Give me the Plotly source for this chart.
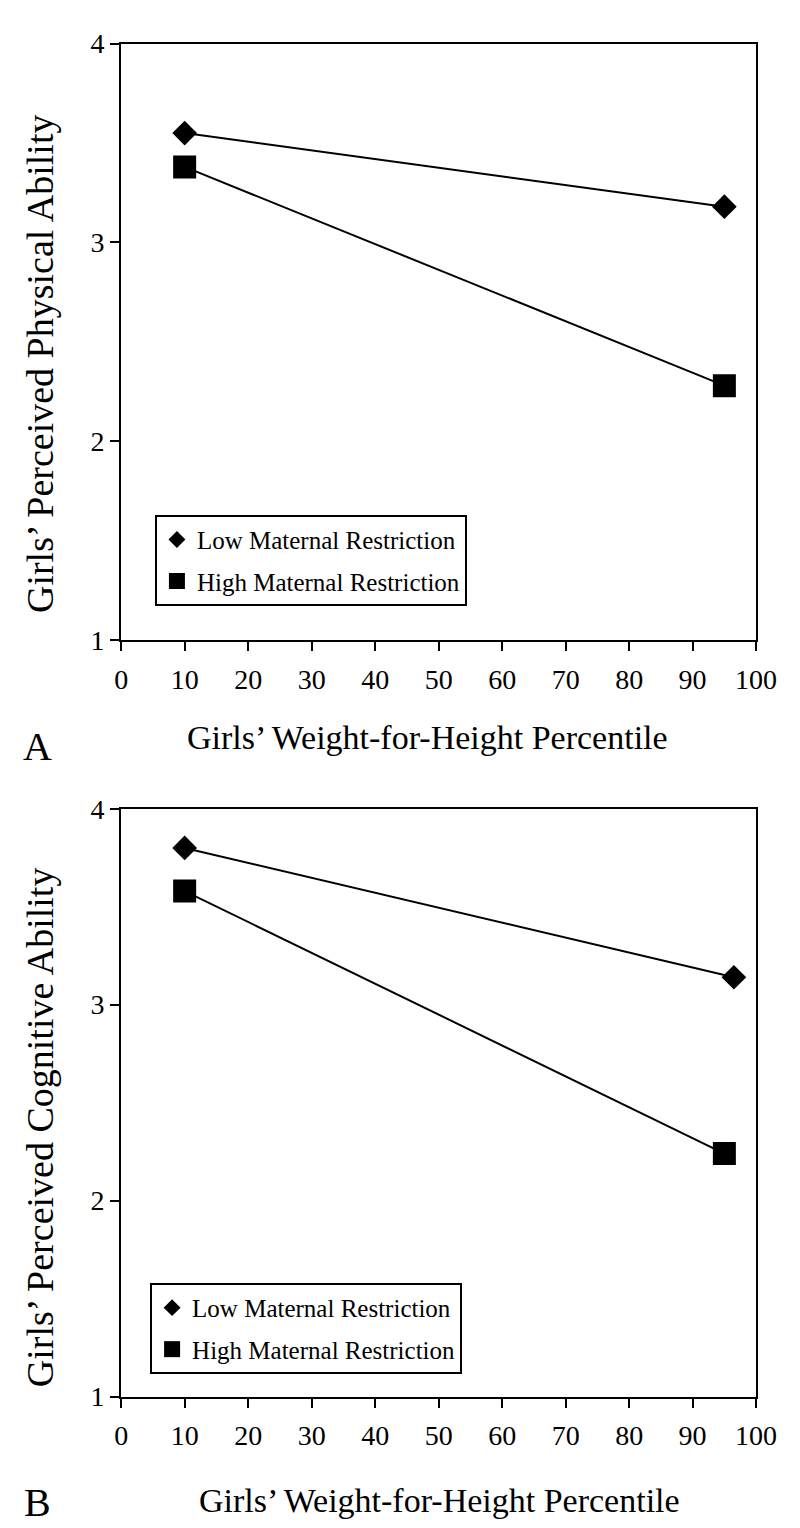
import plotly.graph_objects as go

# ---- data ----
x_ticks = [0, 10, 20, 30, 40, 50, 60, 70, 80, 90, 100]
y_ticks = [1, 2, 3, 4]

series_names = ["Low Maternal Restriction", "High Maternal Restriction"]

# Panel A: perceived physical ability
a_low_x = [10, 95]
a_low_y = [3.55, 3.18]
a_high_x = [10, 95]
a_high_y = [3.38, 2.28]

# Panel B: perceived cognitive ability
b_low_x = [10, 96.5]
b_low_y = [3.80, 3.14]
b_high_x = [10, 95]
b_high_y = [3.58, 2.24]

x_title = "Girls’ Weight-for-Height Percentile"
a_y_title = "Girls’ Perceived Physical Ability"
b_y_title = "Girls’ Perceived Cognitive Ability"

FONT = "Liberation Serif, Times New Roman, serif"
W, H = 800, 1528

fig = go.Figure()

def add_panel(xa, ya, lx, ly, hx, hy, legend):
    fig.add_trace(go.Scatter(x=lx, y=ly, mode="lines+markers", xaxis=xa, yaxis=ya,
                             line=dict(color="black", width=2),
                             marker=dict(symbol="diamond", size=19, color="black"),
                             showlegend=False, hoverinfo="skip"))
    fig.add_trace(go.Scatter(x=hx, y=hy, mode="lines+markers", xaxis=xa, yaxis=ya,
                             line=dict(color="black", width=2),
                             marker=dict(symbol="square", size=23, color="black"),
                             showlegend=False, hoverinfo="skip"))
    # legend-only entries (markers only)
    fig.add_trace(go.Scatter(x=[None], y=[None], mode="markers", xaxis=xa, yaxis=ya,
                             name=series_names[0], legend=legend, legendgroup=legend + "low",
                             marker=dict(symbol="diamond", size=13, color="black")))
    fig.add_trace(go.Scatter(x=[None], y=[None], mode="markers", xaxis=xa, yaxis=ya,
                             name=series_names[1], legend=legend, legendgroup=legend + "high",
                             marker=dict(symbol="square", size=16, color="black")))

add_panel("x", "y", a_low_x, a_low_y, a_high_x, a_high_y, "legend")
add_panel("x2", "y2", b_low_x, b_low_y, b_high_x, b_high_y, "legend2")

x0, x1 = 110 / W, 768 / W
a_dom = [1 - 630 / H, 1 - 21 / H]
b_dom = [1 - 1402 / H, 1 - 802 / H]

xaxis_common = dict(range=[0, 100], tickvals=x_ticks, ticktext=[str(v) for v in x_ticks],
                    showline=True, linecolor="black", linewidth=2, mirror=True,
                    ticks="outside", ticklen=9, tickwidth=1.5, tickcolor="black",
                    showgrid=False, zeroline=False, ticklabelstandoff=4,
                    tickfont=dict(family=FONT, size=28, color="black"), domain=[x0, x1])
yaxis_common = dict(range=[1, 4], tickvals=y_ticks, ticktext=[str(v) for v in y_ticks],
                    showline=True, linecolor="black", linewidth=2, mirror=True,
                    ticks="outside", ticklen=9, tickwidth=1.5, tickcolor="black",
                    showgrid=False, zeroline=False,
                    tickfont=dict(family=FONT, size=28, color="black"))

legend_common = dict(bgcolor="white", bordercolor="black", borderwidth=2,
                     font=dict(family=FONT, size=25, color="black"),
                     xanchor="left", yanchor="top", tracegroupgap=6,
                     itemsizing="trace")

fig.update_layout(
    width=W, height=H,
    margin=dict(l=0, r=0, t=0, b=0),
    paper_bgcolor="white", plot_bgcolor="white",
    font=dict(family=FONT, color="black"),
    xaxis=dict(**xaxis_common, anchor="y"),
    yaxis=dict(**yaxis_common, domain=a_dom, anchor="x"),
    xaxis2=dict(**xaxis_common, anchor="y2"),
    yaxis2=dict(**yaxis_common, domain=b_dom, anchor="x2"),
    legend=dict(**legend_common, x=145 / W, y=1 - 502 / H),
    legend2=dict(**legend_common, x=140 / W, y=1 - 1286 / H),
)

ann = []
# x axis titles
ann.append(dict(text=x_title, x=427 / W, y=1 - 729 / H, xref="paper", yref="paper",
                showarrow=False, font=dict(family=FONT, size=34), xanchor="center", yanchor="middle"))
ann.append(dict(text=x_title, x=440 / W, y=1 - 1508 / H, xref="paper", yref="paper",
                showarrow=False, font=dict(family=FONT, size=34), xanchor="center", yanchor="middle"))
# y axis titles
ann.append(dict(text=a_y_title, x=26 / W, y=1 - 348 / H, xref="paper", yref="paper", textangle=-90,
                showarrow=False, font=dict(family=FONT, size=38), xanchor="center", yanchor="middle"))
ann.append(dict(text=b_y_title, x=26 / W, y=1 - 1127 / H, xref="paper", yref="paper", textangle=-90,
                showarrow=False, font=dict(family=FONT, size=38), xanchor="center", yanchor="middle"))
# panel letters
ann.append(dict(text="A", x=23 / W, y=1 - 738 / H, xref="paper", yref="paper",
                showarrow=False, font=dict(family=FONT, size=40), xanchor="center", yanchor="middle"))
ann.append(dict(text="B", x=23 / W, y=1 - 1510 / H, xref="paper", yref="paper",
                showarrow=False, font=dict(family=FONT, size=40), xanchor="center", yanchor="middle"))
fig.update_layout(annotations=ann)

fig.write_html("out.html")
